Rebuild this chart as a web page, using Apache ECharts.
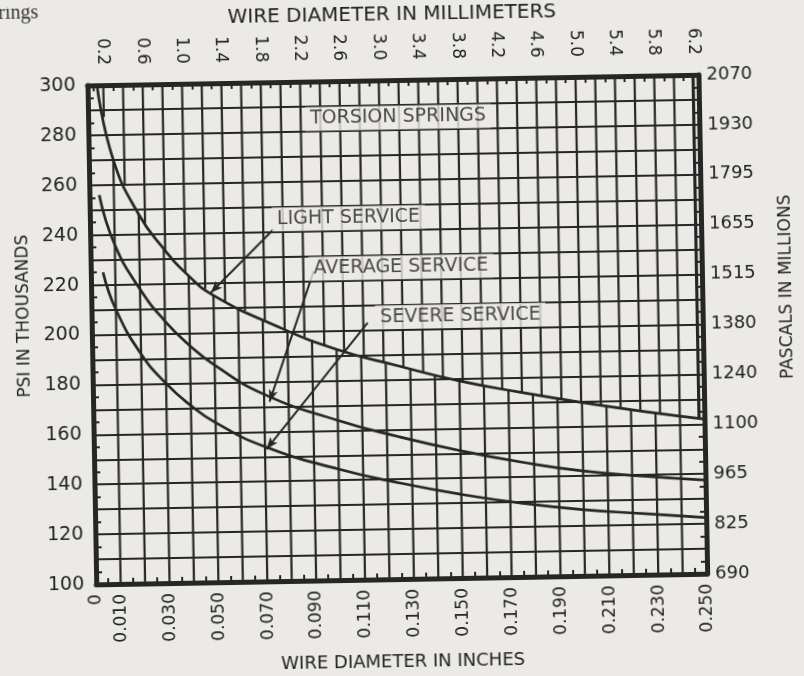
<!DOCTYPE html>
<html><head><meta charset="utf-8">
<script src="https://cdn.jsdelivr.net/npm/echarts@6/dist/echarts.min.js"></script>
<style>
html,body{margin:0;padding:0;background:#ebeae6;overflow:hidden;width:804px;height:676px}
#chart{width:804px;height:676px;transform:rotate(-1deg);transform-origin:402px 338px;}
</style></head><body><div id="chart"></div>
<script>
// ---- data ----
const pascalLabels = ['690','825','965','1100','1240','1380','1515','1655','1795','1930','2070'];
const inchGrid = [0.01,0.02,0.03,0.04,0.05,0.06,0.07,0.08,0.09,0.10,0.11,0.12,0.13,0.14,0.15,0.16,0.17,0.18,0.19,0.20,0.21,0.22,0.23,0.24];
const mmGrid = [0.2,0.4,0.6,0.8,1.0,1.2,1.4,1.6,1.8,2.0,2.2,2.4,2.6,2.8,3.0,3.2,3.4,3.6,3.8,4.0,4.2,4.4,4.6,4.8,5.0,5.2,5.4,5.6,5.8,6.0,6.2];
const mmLabels = [0.2,0.6,1.0,1.4,1.8,2.2,2.6,3.0,3.4,3.8,4.2,4.6,5.0,5.4,5.8,6.2];
const mmTicks = [0.1,0.3,0.5,0.7,0.9,1.1,1.3,1.5,1.7,1.9,2.1,2.3,2.5,2.7,2.9,3.1,3.3,3.5,3.7,3.9,4.1,4.3,4.5,4.7,4.9,5.1,5.3,5.5,5.7,5.9,6.1];

const lightX  = [0.004, 0.010, 0.020, 0.030, 0.040, 0.050, 0.075, 0.100, 0.125, 0.150, 0.175, 0.200, 0.225, 0.250];
const lightY  = [299,   270,   248,   234,   223,   215,   202.5, 192.5, 185.5, 179,   174,   169.5, 165.5, 162];
const avgX    = [0.004, 0.010, 0.020, 0.030, 0.040, 0.050, 0.070, 0.100, 0.125, 0.150, 0.175, 0.200, 0.225, 0.250];
const avgY    = [256,   236,   218,   205,   195,   187,   175,   164,   157,   151,   146,   142,   139.5, 137.5];
const severeX = [0.005, 0.010, 0.020, 0.030, 0.040, 0.050, 0.070, 0.100, 0.125, 0.150, 0.175, 0.200, 0.225, 0.250];
const severeY = [225,   210,   192,   180,   171,   164,   154,   144.5, 138.5, 133.5, 129.5, 126.5, 124.5, 122.5];

const notes = [
  {text:'TORSION SPRINGS', at:[0.1268, 285]},
  {text:'LIGHT SERVICE',   at:[0.1058, 245]},
  {text:'AVERAGE SERVICE', at:[0.1269, 225]},
  {text:'SEVERE SERVICE',  at:[0.1509, 205]}
];
const arrows = [
  {from:[0.0750, 241], to:[0.0489, 216]},
  {from:[0.0912, 224], to:[0.0722, 172]},
  {from:[0.1129, 203], to:[0.0706, 153]}
];

// ---- config ----
const INK = '#262626', PAPER = '#ebeae6', TXT = '#222';
const MM_MIN = 0.04, MM_MAX = 6.25;
const FONT = 'DejaVu Sans';
function inchToMm(x){ return MM_MIN + x/0.25*(MM_MAX-MM_MIN); }
function curveYAt(pts, px){
  if (px <= pts[0][0]) return pts[0][1];
  for (let i=1;i<pts.length;i++){
    if (px <= pts[i][0]) {
      const t=(px-pts[i-1][0])/(pts[i][0]-pts[i-1][0]);
      return pts[i-1][1]+t*(pts[i][1]-pts[i-1][1]);
    }
  }
  return pts[pts.length-1][1];
}
const chart = echarts.init(document.getElementById('chart'), null, {renderer:'canvas'});
const curveStyle = {color: INK, width: 2.7};
function curve(name, xs, ys){
  return {type:'line', name, xAxisIndex:0, yAxisIndex:0, data: xs.map((x,i)=>[x, ys[i]]),
    showSymbol:false, smooth:0.5, lineStyle:curveStyle, z:4, silent:true};
}
const option = {
  animation:false,
  backgroundColor: 'transparent',
  textStyle:{fontFamily:FONT, color:TXT},
  graphic:[{type:'text', left:4, top:-3, style:{text:'rings', font:'20px "Liberation Serif"', fill:'#333'}}],
  grid:{left:92, right:89, top:80, bottom:96},
  xAxis:[
    {type:'value', position:'bottom', min:0, max:0.25, interval:0.01,
     name:'WIRE DIAMETER IN INCHES', nameLocation:'middle', nameGap:74,
     nameTextStyle:{fontSize:18, color:TXT, fontFamily:FONT},
     axisLine:{lineStyle:{color:INK, width:5}},
     axisTick:{show:false, inside:true},
     minorTick:{show:true, splitNumber:2, length:6, lineStyle:{color:INK, width:2}},
     splitLine:{show:false},
     axisLabel:{rotate:90, fontSize:17, color:TXT, margin:10, fontFamily:FONT,
       formatter:v=>{const k=Math.round(v*1000); if(k===0) return '0'; return (k%20===10)? (k/1000).toFixed(3):'';}}},
    {type:'value', position:'top', min:MM_MIN, max:MM_MAX,
     name:'WIRE DIAMETER IN MILLIMETERS', nameLocation:'middle', nameGap:50,
     nameTextStyle:{fontSize:20, color:TXT, fontFamily:FONT},
     axisLine:{lineStyle:{color:INK, width:5}},
     axisTick:{show:true, inside:true, length:6, customValues:mmTicks, lineStyle:{color:INK, width:2}},
     splitLine:{show:false},
     axisLabel:{rotate:90, fontSize:17, color:TXT, margin:20, customValues:mmLabels, fontFamily:FONT,
       formatter:v=>v.toFixed(1)}}
  ],
  yAxis:[
    {type:'value', position:'left', min:100, max:300, interval:10,
     name:'PSI IN THOUSANDS', nameLocation:'middle', nameGap:58, nameRotate:90,
     nameTextStyle:{fontSize:17, color:TXT, fontFamily:FONT, padding:[0,0,0,40]},
     axisLine:{show:true, lineStyle:{color:INK, width:5}},
     axisTick:{show:false, inside:true},
     minorTick:{show:true, splitNumber:2, length:6, lineStyle:{color:INK, width:2}},
     splitLine:{show:true, lineStyle:{color:INK, width:2.2}},
     axisLabel:{fontSize:19, color:TXT, margin:12, fontFamily:FONT,
       formatter:v=>(Math.round(v)%20===0)? String(Math.round(v)) : ''}},
    {type:'value', position:'right', min:100, max:300, interval:10,
     name:'PASCALS IN MILLIONS', nameLocation:'middle', nameGap:76, nameRotate:90,
     nameTextStyle:{fontSize:17, color:TXT, fontFamily:FONT, padding:[0,0,0,72]},
     axisLine:{show:true, lineStyle:{color:INK, width:5}},
     axisTick:{show:false, inside:true},
     minorTick:{show:true, splitNumber:2, length:6, lineStyle:{color:INK, width:2}},
     splitLine:{show:false},
     axisLabel:{fontSize:18, color:TXT, margin:8, fontFamily:FONT,
       formatter:v=>{const k=Math.round(v); return (k%20===0)? (pascalLabels[(k-100)/20]||'') : '';}}}
  ],
  series:[
    {type:'custom', name:'mm grid', xAxisIndex:1, yAxisIndex:0, silent:true, z:1,
     data: mmGrid.map(v=>[v, 300]),
     renderItem:(params, api)=>{
       const v = api.value(0);
       const top = api.coord([v, 300]);
       const pts = lightX.map((x,i)=>api.coord([inchToMm(x), lightY[i]]));
       const yEnd = curveYAt(pts, top[0]);
       return {type:'line', shape:{x1:top[0], y1:top[1], x2:top[0], y2:yEnd}, style:{stroke:INK, lineWidth:2.2}};
     }},
    {type:'custom', name:'inch grid', xAxisIndex:0, yAxisIndex:0, silent:true, z:1,
     data: inchGrid.map(v=>[v, 100]),
     renderItem:(params, api)=>{
       const v = api.value(0);
       const bot = api.coord([v, 100]);
       const pts = lightX.map((x,i)=>api.coord([x, lightY[i]]));
       const yStart = curveYAt(pts, bot[0]);
       return {type:'line', shape:{x1:bot[0], y1:yStart, x2:bot[0], y2:bot[1]}, style:{stroke:INK, lineWidth:2.2}};
     }},
    {type:'custom', name:'right rail', xAxisIndex:0, yAxisIndex:0, silent:true, z:1,
     data: [[lightX[lightX.length-1], lightY[lightY.length-1]]],
     renderItem:(params, api)=>{
       const end = api.coord([api.value(0), api.value(1)]);
       const top = api.coord([api.value(0), 300]);
       const x = end[0]-6;
       return {type:'line', shape:{x1:x, y1:top[1], x2:x, y2:end[1]}, style:{stroke:INK, lineWidth:2}};
     }},
    curve('Light service', lightX, lightY),
    curve('Average service', avgX, avgY),
    curve('Severe service', severeX, severeY),
    {type:'scatter', name:'notes', xAxisIndex:0, yAxisIndex:0, silent:true, z:6,
     symbolSize:0, data: notes.map(n=>({value:n.at, label:{show:true, formatter:n.text}})),
     label:{position:'inside', fontSize:19, color:TXT, fontFamily:FONT, backgroundColor:PAPER, padding:[3,5,2,5]},
     markLine:{silent:true, symbol:['none','arrow'], symbolSize:[7,12], label:{show:false},
       lineStyle:{color:INK, width:2, type:'solid'},
       data: arrows.map(a=>[{coord:a.from},{coord:a.to}])}}
  ]
};
chart.setOption(option);
</script></body></html>
